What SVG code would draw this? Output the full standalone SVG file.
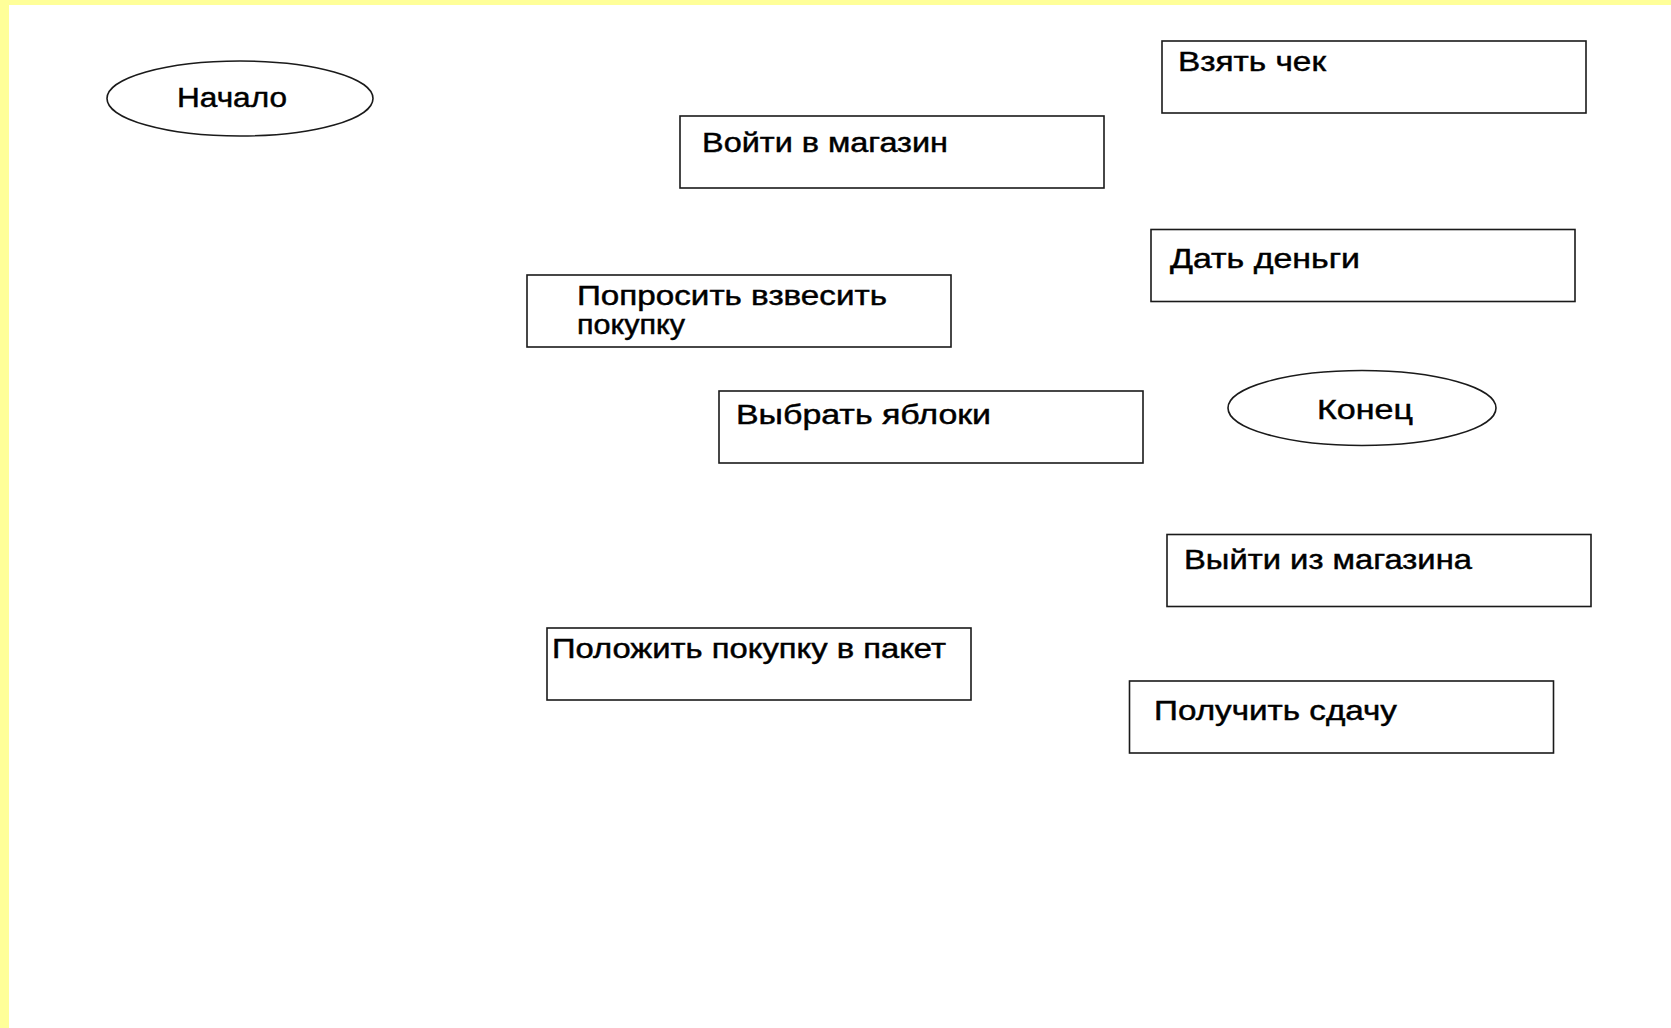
<svg xmlns="http://www.w3.org/2000/svg" width="1671" height="1028" viewBox="0 0 1671 1028">
<style>
.box{fill:#fff;stroke:#1a1a1a;stroke-width:1.6}
.t{font-family:"Liberation Sans",Arial,sans-serif;font-size:27px;fill:#000;stroke:#000;stroke-width:0.45}
</style>
<rect x="0" y="0" width="1671" height="1028" fill="#fff"/>
<rect x="0" y="0" width="1671" height="5" fill="#FFFF99"/>
<rect x="0" y="0" width="9" height="1028" fill="#FFFF99"/>
<g id="connectors"></g>
<g id="start">
<ellipse class="box" cx="240" cy="98.5" rx="133" ry="37.5"/>
<text class="t" x="177" y="107" textLength="110" lengthAdjust="spacingAndGlyphs">Начало</text>
</g>
<g id="enter">
<rect class="box" x="680" y="116" width="424" height="72"/>
<text class="t" x="702" y="152" textLength="246" lengthAdjust="spacingAndGlyphs">Войти в магазин</text>
</g>
<g id="receipt">
<rect class="box" x="1162" y="41" width="424" height="72"/>
<text class="t" x="1178" y="71" textLength="148" lengthAdjust="spacingAndGlyphs">Взять чек</text>
</g>
<g id="pay">
<rect class="box" x="1151" y="229.5" width="424" height="72"/>
<text class="t" x="1170" y="268" textLength="190" lengthAdjust="spacingAndGlyphs">Дать деньги</text>
</g>
<g id="weigh">
<rect class="box" x="527" y="275" width="424" height="72"/>
<text class="t" x="577" y="305" textLength="310" lengthAdjust="spacingAndGlyphs">Попросить взвесить</text>
<text class="t" x="577" y="334" textLength="108" lengthAdjust="spacingAndGlyphs">покупку</text>
</g>
<g id="choose">
<rect class="box" x="719" y="391" width="424" height="72"/>
<text class="t" x="736" y="424" textLength="255" lengthAdjust="spacingAndGlyphs">Выбрать яблоки</text>
</g>
<g id="end">
<ellipse class="box" cx="1362" cy="408" rx="134" ry="37.5"/>
<text class="t" x="1317" y="419" textLength="96" lengthAdjust="spacingAndGlyphs">Конец</text>
</g>
<g id="exit">
<rect class="box" x="1167" y="534.5" width="424" height="72"/>
<text class="t" x="1184" y="569" textLength="288" lengthAdjust="spacingAndGlyphs">Выйти из магазина</text>
</g>
<g id="bag">
<rect class="box" x="547" y="628" width="424" height="72"/>
<text class="t" x="552" y="658" textLength="394" lengthAdjust="spacingAndGlyphs">Положить покупку в пакет</text>
</g>
<g id="change">
<rect class="box" x="1129.5" y="681" width="424" height="72"/>
<text class="t" x="1154" y="720" textLength="243" lengthAdjust="spacingAndGlyphs">Получить сдачу</text>
</g>
</svg>
